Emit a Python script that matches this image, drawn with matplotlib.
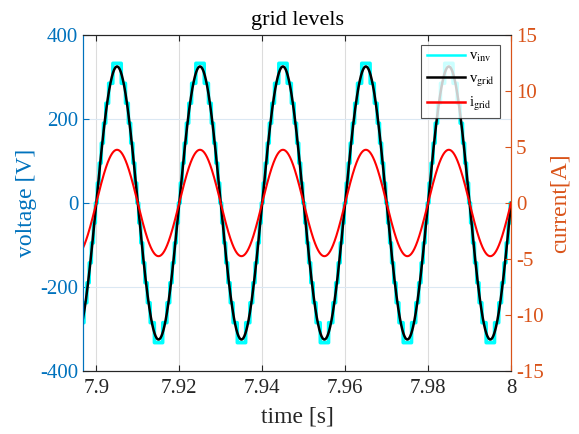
import numpy as np
import matplotlib
matplotlib.use('Agg')
import matplotlib.pyplot as plt

# values
t_start = 7.8968
t_end = 8.0
f_grid = 50.0              # Hz
v_grid_peak = 325.0        # V
i_grid_peak = 4.75         # A
inv_levels = [0, 47.5, 95, 142.5, 190, 237.5, 285, 332.5]   # V, positive steps of v_inv

x_ticks = [7.9, 7.92, 7.94, 7.96, 7.98, 8.0]
x_tick_labels = ['7.9', '7.92', '7.94', '7.96', '7.98', '8']
v_ticks = [-400, -200, 0, 200, 400]
i_ticks = [-15, -10, -5, 0, 5, 10, 15]

blue = '#0072BD'
orange = '#D95319'
dark = '#262626'

plt.rcParams['font.family'] = ['Liberation Serif', 'DejaVu Serif']
plt.rcParams['mathtext.fontset'] = 'stix'
plt.rcParams['axes.unicode_minus'] = False

t = np.linspace(t_start, t_end, 6000)
phase = 2 * np.pi * f_grid * (t - 7.9)
v_grid = v_grid_peak * np.sin(phase)
i_grid = i_grid_peak * np.sin(phase)

# nearest-level staircase for the inverter voltage
lev = np.array(inv_levels)
idx = np.abs(np.abs(v_grid)[:, None] - lev[None, :]).argmin(axis=1)
v_inv = np.sign(v_grid) * lev[idx]

fig = plt.figure(figsize=(5.79, 4.34), dpi=100)
ax = fig.add_axes([0.1434, 0.1452, 0.7392, 0.7742])
ax2 = ax.twinx()

l1, = ax.plot(t, v_inv, color='#00FFFF', lw=2.6)
l2, = ax.plot(t, v_grid, color='black', lw=1.8)
l3, = ax2.plot(t, i_grid, color='#FF0000', lw=1.5)

ax.set_xlim(t_start, t_end)
ax.set_ylim(-400, 400)
ax2.set_ylim(-15, 15)
ax.set_xticks(x_ticks)
ax.set_xticklabels(x_tick_labels)
ax.set_yticks(v_ticks)
ax2.set_yticks(i_ticks)

ax.xaxis.grid(True, color='#dcdcdc', lw=0.8)
ax.yaxis.grid(True, color='#dbe8f3', lw=0.8)
ax.set_axisbelow(True)

ax.tick_params(axis='x', direction='in', top=True, colors=dark, labelsize=15, length=4, pad=6)
ax.tick_params(axis='y', direction='in', colors=blue, labelsize=15, length=4)
ax2.tick_params(axis='y', direction='in', colors=orange, labelsize=15, length=4)

for a in (ax, ax2):
    a.spines['top'].set_color(dark)
    a.spines['bottom'].set_color(dark)
    a.spines['left'].set_color(blue)
    a.spines['right'].set_color(orange)

ax.set_xlabel('time [s]', fontsize=17, color=dark, labelpad=6)
ax.set_ylabel('voltage [V]', fontsize=17, color=blue, labelpad=2)
ax2.set_ylabel('current[A]', fontsize=17, color=orange, labelpad=4)
ax.set_title('grid levels', fontsize=16, color='black', pad=7)

leg = ax2.legend([l1, l2, l3],
                 [r'v$_{\mathrm{inv}}$', r'v$_{\mathrm{grid}}$', r'i$_{\mathrm{grid}}$'],
                 loc='upper right', bbox_to_anchor=(0.974, 0.970),
                 fontsize=10.5, frameon=True, fancybox=False,
                 handlelength=2.6, handletextpad=0.3, borderpad=0.35,
                 labelspacing=0.5, borderaxespad=0.0)
leg.get_frame().set_edgecolor(dark)
leg.get_frame().set_linewidth(0.8)
for h in leg.legend_handles:
    h.set_linewidth(1.8)

fig.savefig('out.png', dpi=100)
